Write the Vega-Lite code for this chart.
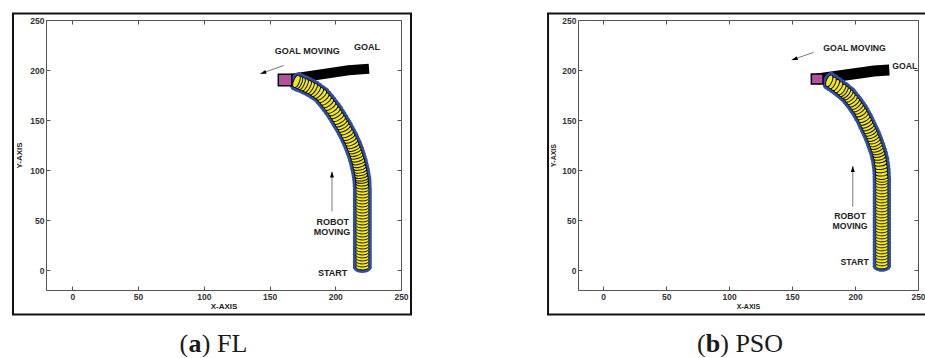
{
  "$schema": "https://vega.github.io/schema/vega-lite/v6.json",
  "background": "white",
  "padding": {"left": 11, "top": 11, "right": 0, "bottom": 0},
  "bounds": "flush",
  "spacing": 177,
  "config": {
    "view": {"stroke": "#555", "strokeWidth": 1},
    "axis": {
      "domain": false, "grid": false, "ticks": true, "tickSize": -4, "tickColor": "#555",
      "labelFont": "Liberation Sans", "labelFontWeight": "bold", "labelFontSize": 8.5,
      "labelColor": "#333", "labelPadding": 6, "labelOverlap": false, "labelFlush": false,
      "titleFont": "Liberation Sans", "titleFontSize": 8, "titleFontWeight": "bold", "titleColor": "#222"
    }
  },
  "datasets": {
    "frameFL": [{"u": -45.1, "u2": 257.6, "v": 256.5, "v2": -44.5}],
    "framePSO": [{"u": -43.8, "u2": 262, "v": 256.5, "v2": -44.5}],
    "goalTrailFL": [{"u": 161.8, "v": 190.3}, {"u": 210, "v": 199.8}, {"u": 225.7, "v": 201.3}],
    "goalTrailPSO": [{"u": 170, "v": 191}, {"u": 215, "v": 199}, {"u": 227.2, "v": 200}],
    "goalFL": [{"u": 156.7, "u2": 166.9, "v": 184.2, "v2": 195.8}],
    "goalPSO": [{"u": 165.3, "u2": 174.6, "v": 186, "v2": 196}],
    "robotFL": [
      {"u": 220.6, "v": 3, "heading": 0}, {"u": 220.6, "v": 6, "heading": 0}, {"u": 220.6, "v": 9, "heading": 0},
      {"u": 220.6, "v": 12, "heading": 0}, {"u": 220.6, "v": 15, "heading": 0}, {"u": 220.6, "v": 18, "heading": 0},
      {"u": 220.6, "v": 21, "heading": 0}, {"u": 220.6, "v": 24, "heading": 0}, {"u": 220.6, "v": 27, "heading": 0},
      {"u": 220.6, "v": 30, "heading": 0}, {"u": 220.6, "v": 33, "heading": 0}, {"u": 220.6, "v": 36, "heading": 0},
      {"u": 220.6, "v": 39, "heading": 0}, {"u": 220.6, "v": 42, "heading": 0}, {"u": 220.6, "v": 45, "heading": 0},
      {"u": 220.6, "v": 48, "heading": 0}, {"u": 220.6, "v": 51, "heading": 0}, {"u": 220.6, "v": 54, "heading": 0},
      {"u": 220.6, "v": 57, "heading": 0}, {"u": 220.6, "v": 60, "heading": 0}, {"u": 220.6, "v": 63, "heading": 0},
      {"u": 220.6, "v": 66, "heading": 0}, {"u": 220.6, "v": 69, "heading": 0}, {"u": 220.6, "v": 72, "heading": 0},
      {"u": 220.6, "v": 75, "heading": 0}, {"u": 220.6, "v": 78, "heading": 0}, {"u": 220.6, "v": 81, "heading": 0},
      {"u": 220.5, "v": 84, "heading": -1}, {"u": 220.4, "v": 87, "heading": -3}, {"u": 220.3, "v": 89.7, "heading": -5},
      {"u": 220.1, "v": 92, "heading": -6}, {"u": 219.7, "v": 94.7, "heading": -9}, {"u": 219.4, "v": 97.3, "heading": -10},
      {"u": 219, "v": 100, "heading": -11}, {"u": 218.5, "v": 102.8, "heading": -12}, {"u": 218, "v": 105.7, "heading": -13},
      {"u": 217.5, "v": 108.5, "heading": -14}, {"u": 216.8, "v": 111.3, "heading": -16}, {"u": 216.2, "v": 114.2, "heading": -17},
      {"u": 215.5, "v": 117, "heading": -18}, {"u": 214.8, "v": 119.7, "heading": -19}, {"u": 214, "v": 122.3, "heading": -20},
      {"u": 213.3, "v": 125, "heading": -21}, {"u": 212.3, "v": 127.8, "heading": -23}, {"u": 211.3, "v": 130.7, "heading": -24},
      {"u": 210.3, "v": 133.5, "heading": -26}, {"u": 209.2, "v": 136.3, "heading": -27}, {"u": 208, "v": 139.2, "heading": -28},
      {"u": 206.9, "v": 142, "heading": -29}, {"u": 205.7, "v": 144.7, "heading": -30}, {"u": 204.5, "v": 147.3, "heading": -30.5},
      {"u": 203.3, "v": 150, "heading": -31}, {"u": 202, "v": 152.8, "heading": -31.5}, {"u": 200.6, "v": 155.7, "heading": -32},
      {"u": 199.3, "v": 158.5, "heading": -33}, {"u": 197.7, "v": 161.3, "heading": -35}, {"u": 196.1, "v": 164.2, "heading": -36.5},
      {"u": 194.5, "v": 167, "heading": -38}, {"u": 192.8, "v": 169.7, "heading": -39}, {"u": 191.1, "v": 172.3, "heading": -40},
      {"u": 189.4, "v": 175, "heading": -43}, {"u": 187.3, "v": 177, "heading": -48}, {"u": 185.1, "v": 179, "heading": -52},
      {"u": 183, "v": 181, "heading": -56}, {"u": 180.8, "v": 182.4, "heading": -60}, {"u": 178.7, "v": 183.8, "heading": -62},
      {"u": 176.5, "v": 185.2, "heading": -64}, {"u": 174.2, "v": 186.5, "heading": -65}, {"u": 172.3, "v": 187.6, "heading": -67},
      {"u": 170.5, "v": 188.6, "heading": -68}
    ],
    "robotPSO": [
      {"u": 221.3, "v": 4, "heading": 0}, {"u": 221.3, "v": 7, "heading": 0}, {"u": 221.3, "v": 10, "heading": 0},
      {"u": 221.3, "v": 13, "heading": 0}, {"u": 221.3, "v": 16, "heading": 0}, {"u": 221.3, "v": 19, "heading": 0},
      {"u": 221.3, "v": 22, "heading": 0}, {"u": 221.3, "v": 25, "heading": 0}, {"u": 221.3, "v": 28, "heading": 0},
      {"u": 221.3, "v": 31, "heading": 0}, {"u": 221.3, "v": 34, "heading": 0}, {"u": 221.3, "v": 37, "heading": 0},
      {"u": 221.3, "v": 40, "heading": 0}, {"u": 221.3, "v": 43, "heading": 0}, {"u": 221.3, "v": 46, "heading": 0},
      {"u": 221.3, "v": 49, "heading": 0}, {"u": 221.3, "v": 52, "heading": 0}, {"u": 221.3, "v": 55, "heading": 0},
      {"u": 221.3, "v": 58, "heading": 0}, {"u": 221.3, "v": 61, "heading": 0}, {"u": 221.3, "v": 64, "heading": 0},
      {"u": 221.3, "v": 67, "heading": 0}, {"u": 221.3, "v": 70, "heading": 0}, {"u": 221.3, "v": 73, "heading": 0},
      {"u": 221.3, "v": 76, "heading": 0}, {"u": 221.3, "v": 79, "heading": 0}, {"u": 221.3, "v": 82, "heading": 0},
      {"u": 221.3, "v": 85, "heading": 0}, {"u": 221.3, "v": 88, "heading": 0}, {"u": 221.3, "v": 90.6, "heading": 0},
      {"u": 221.2, "v": 93.3, "heading": -1}, {"u": 221.1, "v": 96.7, "heading": -2}, {"u": 221, "v": 100, "heading": -4},
      {"u": 220.7, "v": 103.3, "heading": -5}, {"u": 220.3, "v": 106.7, "heading": -7}, {"u": 220, "v": 110, "heading": -9},
      {"u": 219.4, "v": 112.8, "heading": -11}, {"u": 218.9, "v": 115.7, "heading": -13}, {"u": 218.3, "v": 118.5, "heading": -15},
      {"u": 217.5, "v": 121.2, "heading": -17}, {"u": 216.8, "v": 124, "heading": -18.5}, {"u": 216, "v": 126.7, "heading": -19.5},
      {"u": 215.2, "v": 129.5, "heading": -20}, {"u": 214.3, "v": 132.2, "heading": -21}, {"u": 213.5, "v": 135, "heading": -22.5},
      {"u": 212.5, "v": 137.7, "heading": -24}, {"u": 211.5, "v": 140.3, "heading": -25}, {"u": 210.5, "v": 143, "heading": -25.5},
      {"u": 209.4, "v": 145.8, "heading": -26}, {"u": 208.4, "v": 148.7, "heading": -27}, {"u": 207.3, "v": 151.5, "heading": -28},
      {"u": 206, "v": 154.3, "heading": -29}, {"u": 204.8, "v": 157.2, "heading": -30.5}, {"u": 203.5, "v": 160, "heading": -32},
      {"u": 202.1, "v": 162.5, "heading": -34}, {"u": 200.7, "v": 165, "heading": -35.5}, {"u": 199.3, "v": 167.5, "heading": -37},
      {"u": 197.7, "v": 170, "heading": -38.5}, {"u": 196.1, "v": 172.5, "heading": -41}, {"u": 194.5, "v": 175, "heading": -44},
      {"u": 192.8, "v": 176.8, "heading": -47}, {"u": 191, "v": 178.7, "heading": -50}, {"u": 189.3, "v": 180.5, "heading": -52},
      {"u": 186.9, "v": 182.8, "heading": -55}, {"u": 184.5, "v": 185, "heading": -58}, {"u": 182, "v": 187.1, "heading": -62},
      {"u": 179.5, "v": 189.2, "heading": -65}
    ],
    "labelsFL": [
      {"u": 178.7, "v": 219.5, "text": "GOAL MOVING"},
      {"u": 224.1, "v": 222.8, "text": "GOAL"},
      {"u": 198, "v": 47.8, "text": "ROBOT"},
      {"u": 197.5, "v": 37.8, "text": "MOVING"},
      {"u": 198, "v": -3, "text": "START"}
    ],
    "labelsPSO": [
      {"u": 199.6, "v": 222.3, "text": "GOAL MOVING"},
      {"u": 239.5, "v": 204.3, "text": "GOAL"},
      {"u": 196, "v": 54.3, "text": "ROBOT"},
      {"u": 196, "v": 44, "text": "MOVING"},
      {"u": 199.7, "v": 7.7, "text": "START"}
    ],
    "goalArrowFL": [{"u": 160.8, "v": 204.5, "u2": 143, "v2": 196.2}],
    "goalArrowPSO": [{"u": 167.2, "v": 217.7, "u2": 149.7, "v2": 210}],
    "robotArrowFL": [{"u": 197.5, "v": 58.5, "u2": 197.5, "v2": 98.5}],
    "robotArrowPSO": [{"u": 198.2, "v": 63.3, "u2": 198.2, "v2": 104}],
    "captionFL": [{"u": 93.3, "v": -81.5, "tag": "a", "name": "FL"}],
    "captionPSO": [{"u": 87.2, "v": -81.5, "tag": "b", "name": "PSO"}]
  },
  "hconcat": [
    {
      "width": 355,
      "height": 270,
      "resolve": {"axis": {"x": "independent", "y": "independent"}},
      "layer": [
        {
          "layer": [
            {
              "data": {"name": "frameFL"},
              "mark": {"type": "rect", "filled": false, "stroke": "#111", "strokeWidth": 2},
              "encoding": {
                "x": {"field": "u", "type": "quantitative",
                      "scale": {"domain": [-20, 250], "nice": false, "zero": false},
                      "axis": {"orient": "bottom", "values": [0, 50, 100, 150, 200, 250], "title": "X-AXIS", "titlePadding": 2}},
                "x2": {"field": "u2"},
                "y": {"field": "v", "type": "quantitative",
                      "scale": {"domain": [-20, 250], "nice": false, "zero": false},
                      "axis": {"orient": "left", "values": [0, 50, 100, 150, 200, 250], "title": "Y-AXIS", "titlePadding": 6}},
                "y2": {"field": "v2"}
              }
            },
            {
              "data": {"name": "goalTrailFL"},
              "mark": {"type": "line", "color": "#000", "strokeWidth": 10, "strokeCap": "butt", "strokeJoin": "miter"},
              "encoding": {"x": {"field": "u", "type": "quantitative"}, "y": {"field": "v", "type": "quantitative"}}
            },
            {
              "data": {"name": "robotFL"},
              "mark": {"type": "point", "filled": true, "opacity": 1, "fill": "#2d4eae", "strokeWidth": 0,
                       "shape": "M-1,0A1,0.63,0,1,0,1,0A1,0.63,0,1,0,-1,0Z", "size": 361},
              "encoding": {"x": {"field": "u", "type": "quantitative"}, "y": {"field": "v", "type": "quantitative"},
                           "angle": {"field": "heading", "type": "quantitative", "scale": null}}
            },
            {
              "data": {"name": "robotFL"},
              "mark": {"type": "point", "filled": true, "opacity": 1, "fill": "#f4e81a", "stroke": "#111", "strokeWidth": 1,
                       "shape": "M-1,0A1,0.45,0,1,0,1,0A1,0.45,0,1,0,-1,0Z", "size": 169},
              "encoding": {"x": {"field": "u", "type": "quantitative"}, "y": {"field": "v", "type": "quantitative"},
                           "angle": {"field": "heading", "type": "quantitative", "scale": null}}
            },
            {
              "data": {"name": "goalFL"},
              "mark": {"type": "rect", "fill": "#b5509c", "stroke": "#000", "strokeWidth": 1.5},
              "encoding": {"x": {"field": "u", "type": "quantitative"}, "x2": {"field": "u2"},
                           "y": {"field": "v", "type": "quantitative"}, "y2": {"field": "v2"}}
            },
            {
              "data": {"name": "goalArrowFL"},
              "mark": {"type": "rule", "color": "#7a7a7a", "strokeWidth": 1},
              "encoding": {"x": {"field": "u", "type": "quantitative"}, "x2": {"field": "u2"},
                           "y": {"field": "v", "type": "quantitative"}, "y2": {"field": "v2"}}
            },
            {
              "data": {"name": "goalArrowFL"},
              "mark": {"type": "point", "filled": true, "opacity": 1, "color": "#000", "shape": "M0,0L0.5,1.5L-0.5,1.5Z", "size": 64, "angle": -109.5},
              "encoding": {"x": {"field": "u2", "type": "quantitative"}, "y": {"field": "v2", "type": "quantitative"}}
            },
            {
              "data": {"name": "robotArrowFL"},
              "mark": {"type": "rule", "color": "#7a7a7a", "strokeWidth": 1},
              "encoding": {"x": {"field": "u", "type": "quantitative"}, "x2": {"field": "u2"},
                           "y": {"field": "v", "type": "quantitative"}, "y2": {"field": "v2"}}
            },
            {
              "data": {"name": "robotArrowFL"},
              "mark": {"type": "point", "filled": true, "opacity": 1, "color": "#000", "shape": "M0,0L0.5,1.5L-0.5,1.5Z", "size": 64, "angle": 0},
              "encoding": {"x": {"field": "u2", "type": "quantitative"}, "y": {"field": "v2", "type": "quantitative"}}
            },
            {
              "data": {"name": "labelsFL"},
              "mark": {"type": "text", "font": "Liberation Sans", "fontWeight": "bold", "fontSize": 9, "color": "#222", "align": "center", "baseline": "middle"},
              "encoding": {"x": {"field": "u", "type": "quantitative"}, "y": {"field": "v", "type": "quantitative"}, "text": {"field": "text"}}
            },
            {
              "data": {"name": "captionFL"},
              "mark": {"type": "text", "text": "(", "font": "Liberation Serif", "fontSize": 26, "color": "#1a1a1a", "align": "right", "baseline": "alphabetic", "dx": -6.8},
              "encoding": {"x": {"field": "u", "type": "quantitative"}, "y": {"field": "v", "type": "quantitative"}}
            },
            {
              "data": {"name": "captionFL"},
              "mark": {"type": "text", "font": "Liberation Serif", "fontSize": 26, "fontWeight": "bold", "color": "#1a1a1a", "align": "center", "baseline": "alphabetic"},
              "encoding": {"x": {"field": "u", "type": "quantitative"}, "y": {"field": "v", "type": "quantitative"}, "text": {"field": "tag"}}
            },
            {
              "data": {"name": "captionFL"},
              "mark": {"type": "text", "text": ")", "font": "Liberation Serif", "fontSize": 26, "color": "#1a1a1a", "align": "left", "baseline": "alphabetic", "dx": 6.8},
              "encoding": {"x": {"field": "u", "type": "quantitative"}, "y": {"field": "v", "type": "quantitative"}}
            },
            {
              "data": {"name": "captionFL"},
              "mark": {"type": "text", "font": "Liberation Serif", "fontSize": 26, "color": "#1a1a1a", "align": "left", "baseline": "alphabetic", "dx": 22},
              "encoding": {"x": {"field": "u", "type": "quantitative"}, "y": {"field": "v", "type": "quantitative"}, "text": {"field": "name"}}
            }
          ]
        },
        {
          "data": {"name": "goalFL"},
          "mark": {"type": "point", "opacity": 0, "size": 1},
          "encoding": {
            "x": {"field": "u", "type": "quantitative",
                  "scale": {"domain": [-20, 250], "nice": false, "zero": false},
                  "axis": {"orient": "top", "values": [0, 50, 100, 150, 200, 250], "labels": false, "title": null}},
            "y": {"field": "v", "type": "quantitative",
                  "scale": {"domain": [-20, 250], "nice": false, "zero": false},
                  "axis": {"orient": "right", "values": [0, 50, 100, 150, 200, 250], "labels": false, "title": null}}
          }
        }
      ]
    },
    {
      "width": 340,
      "height": 270,
      "resolve": {"axis": {"x": "independent", "y": "independent"}},
      "layer": [
        {
          "layer": [
            {
              "data": {"name": "framePSO"},
              "mark": {"type": "rect", "filled": false, "stroke": "#111", "strokeWidth": 2},
              "encoding": {
                "x": {"field": "u", "type": "quantitative",
                      "scale": {"domain": [-20, 250], "nice": false, "zero": false},
                      "axis": {"orient": "bottom", "values": [0, 50, 100, 150, 200, 250], "title": "X-AXIS", "titlePadding": 2, "titleFontSize": 7}},
                "x2": {"field": "u2"},
                "y": {"field": "v", "type": "quantitative",
                      "scale": {"domain": [-20, 250], "nice": false, "zero": false},
                      "axis": {"orient": "left", "values": [0, 50, 100, 150, 200, 250], "title": "Y-AXIS", "titlePadding": 5, "titleFontSize": 7}},
                "y2": {"field": "v2"}
              }
            },
            {
              "data": {"name": "goalTrailPSO"},
              "mark": {"type": "line", "color": "#000", "strokeWidth": 11, "strokeCap": "butt", "strokeJoin": "miter"},
              "encoding": {"x": {"field": "u", "type": "quantitative"}, "y": {"field": "v", "type": "quantitative"}}
            },
            {
              "data": {"name": "robotPSO"},
              "mark": {"type": "point", "filled": true, "opacity": 1, "fill": "#2d4eae", "strokeWidth": 0,
                       "shape": "M-1,0A1,0.63,0,1,0,1,0A1,0.63,0,1,0,-1,0Z", "size": 340},
              "encoding": {"x": {"field": "u", "type": "quantitative"}, "y": {"field": "v", "type": "quantitative"},
                           "angle": {"field": "heading", "type": "quantitative", "scale": null}}
            },
            {
              "data": {"name": "robotPSO"},
              "mark": {"type": "point", "filled": true, "opacity": 1, "fill": "#f4e81a", "stroke": "#111", "strokeWidth": 1,
                       "shape": "M-1,0A1,0.45,0,1,0,1,0A1,0.45,0,1,0,-1,0Z", "size": 156},
              "encoding": {"x": {"field": "u", "type": "quantitative"}, "y": {"field": "v", "type": "quantitative"},
                           "angle": {"field": "heading", "type": "quantitative", "scale": null}}
            },
            {
              "data": {"name": "goalPSO"},
              "mark": {"type": "rect", "fill": "#b5509c", "stroke": "#000", "strokeWidth": 1.5},
              "encoding": {"x": {"field": "u", "type": "quantitative"}, "x2": {"field": "u2"},
                           "y": {"field": "v", "type": "quantitative"}, "y2": {"field": "v2"}}
            },
            {
              "data": {"name": "goalArrowPSO"},
              "mark": {"type": "rule", "color": "#7a7a7a", "strokeWidth": 1},
              "encoding": {"x": {"field": "u", "type": "quantitative"}, "x2": {"field": "u2"},
                           "y": {"field": "v", "type": "quantitative"}, "y2": {"field": "v2"}}
            },
            {
              "data": {"name": "goalArrowPSO"},
              "mark": {"type": "point", "filled": true, "opacity": 1, "color": "#000", "shape": "M0,0L0.5,1.5L-0.5,1.5Z", "size": 64, "angle": -109.3},
              "encoding": {"x": {"field": "u2", "type": "quantitative"}, "y": {"field": "v2", "type": "quantitative"}}
            },
            {
              "data": {"name": "robotArrowPSO"},
              "mark": {"type": "rule", "color": "#7a7a7a", "strokeWidth": 1},
              "encoding": {"x": {"field": "u", "type": "quantitative"}, "x2": {"field": "u2"},
                           "y": {"field": "v", "type": "quantitative"}, "y2": {"field": "v2"}}
            },
            {
              "data": {"name": "robotArrowPSO"},
              "mark": {"type": "point", "filled": true, "opacity": 1, "color": "#000", "shape": "M0,0L0.5,1.5L-0.5,1.5Z", "size": 64, "angle": 0},
              "encoding": {"x": {"field": "u2", "type": "quantitative"}, "y": {"field": "v2", "type": "quantitative"}}
            },
            {
              "data": {"name": "labelsPSO"},
              "mark": {"type": "text", "font": "Liberation Sans", "fontWeight": "bold", "fontSize": 8.7, "color": "#222", "align": "center", "baseline": "middle"},
              "encoding": {"x": {"field": "u", "type": "quantitative"}, "y": {"field": "v", "type": "quantitative"}, "text": {"field": "text"}}
            },
            {
              "data": {"name": "captionPSO"},
              "mark": {"type": "text", "text": "(", "font": "Liberation Serif", "fontSize": 26, "color": "#1a1a1a", "align": "right", "baseline": "alphabetic", "dx": -7.2},
              "encoding": {"x": {"field": "u", "type": "quantitative"}, "y": {"field": "v", "type": "quantitative"}}
            },
            {
              "data": {"name": "captionPSO"},
              "mark": {"type": "text", "font": "Liberation Serif", "fontSize": 26, "fontWeight": "bold", "color": "#1a1a1a", "align": "center", "baseline": "alphabetic"},
              "encoding": {"x": {"field": "u", "type": "quantitative"}, "y": {"field": "v", "type": "quantitative"}, "text": {"field": "tag"}}
            },
            {
              "data": {"name": "captionPSO"},
              "mark": {"type": "text", "text": ")", "font": "Liberation Serif", "fontSize": 26, "color": "#1a1a1a", "align": "left", "baseline": "alphabetic", "dx": 7.2},
              "encoding": {"x": {"field": "u", "type": "quantitative"}, "y": {"field": "v", "type": "quantitative"}}
            },
            {
              "data": {"name": "captionPSO"},
              "mark": {"type": "text", "font": "Liberation Serif", "fontSize": 26, "color": "#1a1a1a", "align": "left", "baseline": "alphabetic", "dx": 22.4},
              "encoding": {"x": {"field": "u", "type": "quantitative"}, "y": {"field": "v", "type": "quantitative"}, "text": {"field": "name"}}
            }
          ]
        },
        {
          "data": {"name": "goalPSO"},
          "mark": {"type": "point", "opacity": 0, "size": 1},
          "encoding": {
            "x": {"field": "u", "type": "quantitative",
                  "scale": {"domain": [-20, 250], "nice": false, "zero": false},
                  "axis": {"orient": "top", "values": [0, 50, 100, 150, 200, 250], "labels": false, "title": null}},
            "y": {"field": "v", "type": "quantitative",
                  "scale": {"domain": [-20, 250], "nice": false, "zero": false},
                  "axis": {"orient": "right", "values": [0, 50, 100, 150, 200, 250], "labels": false, "title": null}}
          }
        }
      ]
    }
  ]
}
